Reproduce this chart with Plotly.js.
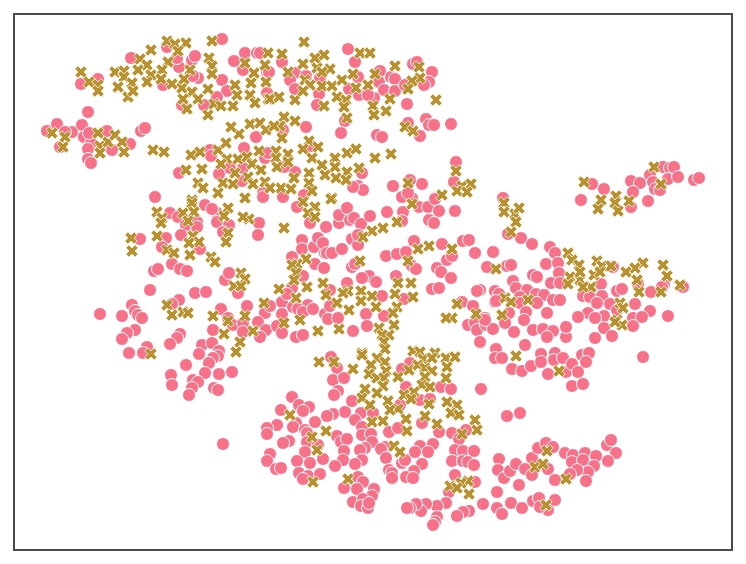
<!DOCTYPE html>
<html><head><meta charset="utf-8">
<script src="https://cdn.plot.ly/plotly-3.0.0.min.js"></script>
<style>html,body{margin:0;padding:0;background:#fff}</style></head>
<body><div id="chart" style="width:746px;height:564px"></div>
<script>
const pinkPoints = [
[47,131],[57,124],[72,132],[82,125],[88,112],[84,137],[91,143],[88,149],[88,159],[91,163],[112,150],[130,144],[141,131],[145,128],[107,131],[89,133],[65,132],[60,147],
[131,58],[222,39],[192,60],[195,56],[179,67],[167,47],[177,58],[234,61],[245,53],[257,53],[243,70],[222,80],[198,78],[193,76],[227,91],[217,97],[204,105],[163,85],[98,79],[81,84],[182,105],[267,72],[267,93],
[155,197],[179,173],[210,150],[211,156],[244,148],[256,137],[219,174],[230,168],[243,168],[242,181],[265,158],[270,153],[263,193],
[348,49],[355,62],[282,62],[269,72],[295,73],[290,80],[295,89],[306,76],[319,94],[320,78],[317,105],[349,89],[359,95],[358,77],[380,71],[379,82],[391,77],[395,79],[384,90],[395,91],[374,98],[368,95],[407,104],[413,64],[417,62],[432,72],[429,82],[424,85],[405,85],[345,121],[306,127],[341,133],[377,135],[382,137],[426,119],[429,125],[434,125],[451,124],[420,136],[408,123],[283,130],[260,53],
[456,162],[454,182],[422,184],[393,186],[410,180],[358,186],[363,190],[353,187],[362,173],[403,197],[412,198],[435,198],[295,172],[283,197],[304,195],[284,167],[268,153],[311,146],
[503,198],[592,184],[604,189],[581,200],[631,181],[640,183],[633,192],[631,207],[648,201],[650,175],[653,182],[655,189],[660,190],[663,167],[670,168],[674,167],[668,179],[678,177],[694,180],[699,178],
[508,234],[521,238],[532,244],[550,247],[555,253],[546,264],[558,263],[559,273],[551,283],[560,283],[533,275],[537,277],[494,252],[487,267],[507,266],[511,265],[513,281],[516,288],[527,290],[495,291],[495,302],[520,297],[520,303],[536,294],[544,295],[537,303],[553,300],[560,300],[547,313],[526,312],[509,313],[485,318],[480,290],[601,284],[583,296],[590,297],[602,296],[597,303],[610,304],[617,291],[622,289],[635,304],[651,292],[664,285],[662,287],[683,287],[613,267],[638,284],[650,311],[668,316],[633,318],[642,317],[604,316],[588,313],[578,317],[595,318],[617,310],
[170,213],[178,217],[186,225],[197,222],[197,227],[217,213],[217,222],[229,225],[223,232],[259,223],[258,235],[205,205],[212,209],[140,239],[166,238],[181,235],[162,247],[200,249],[154,271],[158,269],[172,264],[180,269],[187,271],[225,280],[229,273],[238,293],[150,290],[195,293],[206,292],[179,300],[172,304],[100,314],[122,316],[132,305],[135,311],[138,315],[142,318],[135,330],[127,333],[122,339],[129,353],[147,347],[143,353],[180,334],[177,338],[170,344],[202,345],[212,343],[199,354],[219,351],[218,356],[213,358],[209,363],[186,365],[232,372],[221,309],[213,330],[247,306],[265,313],[270,306],[228,318],[233,325],[243,323],[243,332],[258,322],[266,330],[260,337],[282,302],[282,314],[277,326],[282,333],[296,337],[303,335],[292,288],[287,294],[292,257],[302,240],[302,249],[314,247],[318,238],[315,264],[324,268],[325,253],[330,253],[303,276],[308,305],[293,307],[298,309],[303,312],[313,309],[325,314],[297,207],[310,223],[263,197],
[205,373],[219,374],[171,375],[172,385],[193,380],[198,382],[192,388],[189,395],[214,388],[218,390],
[323,243],[327,253],[332,253],[342,249],[326,227],[339,223],[339,215],[347,208],[350,220],[354,218],[361,224],[370,216],[387,212],[403,212],[402,197],[408,193],[419,207],[428,207],[435,199],[439,211],[455,211],[429,220],[434,223],[402,221],[352,239],[358,245],[358,235],[414,241],[442,244],[463,241],[469,240],[475,253],[493,252],[386,256],[397,254],[406,252],[412,266],[416,269],[352,267],[355,264],[369,276],[376,282],[362,278],[396,276],[347,283],[330,290],[437,268],[441,272],[451,278],[447,260],[452,256],[477,291],[499,294],[432,289],[439,288],[382,296],[404,299],[328,319],[338,318],[330,306],[366,314],[384,316],[367,326],[353,331],[468,325],[475,323],[462,302],[473,306],[496,301],
[331,357],[337,368],[333,380],[344,378],[338,391],[334,395],[292,397],[299,405],[309,407],[303,411],[281,410],[296,423],[293,427],[277,425],[267,428],[267,434],[289,441],[283,443],[315,422],[305,430],[307,433],[307,442],[318,445],[305,452],[323,459],[297,461],[310,463],[270,454],[267,461],[276,469],[281,468],[299,473],[308,476],[320,474],[303,479],[345,412],[333,414],[327,416],[352,401],[361,413],[355,420],[373,413],[362,427],[362,435],[371,434],[337,436],[341,442],[347,439],[372,442],[344,451],[365,448],[360,450],[343,460],[335,466],[362,460],[355,464],[358,477],[363,482],[357,489],[344,488],[374,489],[372,496],[353,502],[363,499],[361,506],[368,508],[369,503],
[389,432],[398,428],[422,423],[439,432],[452,433],[459,439],[466,430],[433,444],[420,446],[428,452],[415,452],[385,447],[381,449],[386,458],[402,463],[405,460],[422,464],[414,471],[406,477],[413,478],[389,470],[392,473],[392,478],
[455,450],[452,461],[463,451],[474,451],[463,461],[468,462],[474,465],[455,475],[449,492],[475,482],[483,504],[469,511],[463,512],[457,516],[446,503],[437,506],[426,504],[421,511],[416,504],[410,508],[407,508],[437,517],[435,522],[433,525],
[410,363],[402,369],[406,387],[400,405],[420,400],[430,399],[441,387],[451,389],[481,389],[507,416],[520,413],
[499,459],[498,470],[504,478],[510,471],[516,464],[519,485],[525,469],[532,458],[538,448],[546,443],[553,447],[532,475],[548,469],[565,453],[573,455],[572,462],[585,453],[583,460],[596,456],[594,466],[588,472],[577,470],[570,474],[586,481],[555,480],[607,445],[611,440],[616,453],[608,461],
[497,492],[497,508],[502,514],[511,503],[522,508],[533,501],[539,498],[548,510],[555,500],[540,507],
[477,330],[486,325],[493,329],[485,320],[480,342],[496,349],[495,358],[502,358],[512,369],[522,371],[531,366],[525,345],[541,354],[541,362],[548,374],[555,353],[554,360],[563,358],[566,372],[572,364],[578,372],[582,355],[589,353],[586,362],[572,386],[583,384],[643,357],
[514,332],[524,320],[505,323],[533,330],[543,329],[553,331],[547,337],[566,337],[566,327],[595,338],[604,328],[612,336],[633,326],[223,444]
];
const goldPoints = [
[81,72],[89,82],[98,85],[98,91],[115,72],[124,71],[124,77],[132,83],[118,87],[128,97],[133,91],[140,59],[151,50],[167,41],[175,44],[186,43],[178,51],[212,41],[168,62],[147,65],[138,70],[151,75],[162,70],[147,82],[161,79],[172,84],[182,88],[190,70],[209,58],[212,66],[212,74],[184,79],[192,92],[183,99],[198,99],[208,89],[187,109],[208,115],[214,104],[221,106],[233,106],[237,95],[235,85],[250,95],[255,103],[251,83],[254,73],[245,63],[265,65],[268,53],[266,82],[268,99],
[52,133],[65,137],[63,147],[98,133],[100,146],[100,153],[108,142],[115,135],[122,142],[124,152],[153,150],[164,152],[191,155],[200,152],[218,150],[226,143],[239,134],[231,127],[250,124],[260,123],[266,130],[227,159],[238,159],[247,157],[259,151],[221,164],[252,164],[261,170],[186,170],[202,169],[235,173],[248,177],[253,184],[265,182],[198,183],[203,188],[223,183],[233,184],[218,193],[245,198],[192,200],
[304,42],[282,54],[270,99],[279,97],[295,100],[303,64],[315,58],[324,55],[288,72],[317,68],[330,69],[322,72],[305,80],[310,85],[303,91],[322,86],[332,86],[342,80],[353,74],[356,88],[337,97],[346,100],[324,106],[344,107],[347,118],[360,53],[370,53],[375,74],[368,85],[395,66],[419,67],[420,78],[412,81],[408,89],[390,99],[373,106],[386,111],[374,115],[436,100],[405,127],[413,131],
[284,117],[295,121],[280,126],[274,126],[282,138],[309,141],[318,147],[303,149],[276,151],[288,154],[312,158],[288,162],[276,158],[277,167],[322,165],[335,158],[335,167],[347,153],[356,149],[375,158],[391,154],[359,168],[347,172],[325,175],[309,173],[294,178],[336,178],[346,180],[309,183],[281,188],[291,189],[312,191],[332,198],[270,188],[408,183],[456,171],[462,186],[471,184],[457,191],[467,192],[442,195],
[654,167],[661,184],[584,182],[601,200],[598,209],[616,196],[615,203],[618,211],[629,201],[504,203],[504,212],[515,214],[519,208],[516,222],[511,232],
[568,253],[572,260],[579,265],[597,261],[602,266],[611,266],[643,263],[635,268],[626,272],[637,280],[639,292],[663,265],[667,276],[661,292],[680,285],[496,269],[570,277],[580,280],[568,284],[580,272],[594,275],[600,272],[591,287],[583,287],[505,298],[511,302],[528,300],[620,303],[623,308],[502,315],[617,320],[622,325],[615,322],
[157,212],[162,218],[161,223],[183,213],[192,203],[194,212],[188,221],[228,208],[224,216],[249,219],[243,217],[284,228],[303,202],[315,207],[308,213],[315,217],[157,236],[131,238],[132,251],[167,250],[174,253],[190,255],[193,236],[199,242],[189,243],[228,233],[226,242],[211,257],[215,262],[306,259],[297,264],[292,265],[296,273],[294,280],[307,287],[279,289],[296,298],[241,273],[245,279],[234,286],[241,286],[167,305],[172,315],[183,312],[188,313],[213,316],[228,321],[245,316],[264,303],[253,331],[224,334],[240,342],[236,352],[284,323],[300,320],[318,331],[323,283],[326,295],[151,354],[319,362],
[331,199],[397,222],[383,228],[372,231],[363,237],[412,204],[429,246],[418,249],[452,249],[408,261],[360,261],[348,291],[343,293],[337,303],[361,291],[361,301],[372,296],[398,283],[411,283],[395,294],[413,297],[397,307],[376,307],[393,313],[394,325],[349,310],[339,329],[379,328],[389,335],[382,335],[384,342],[385,349],[457,304],[452,318],[446,318],[476,314],[362,353],
[334,362],[353,369],[362,355],[377,358],[371,365],[385,362],[386,371],[369,374],[377,378],[384,378],[383,386],[398,377],[409,370],[413,351],[420,352],[435,353],[423,359],[432,358],[446,358],[455,357],[447,367],[418,365],[425,368],[432,371],[425,377],[446,378],[422,385],[430,387],[365,389],[362,398],[377,393],[404,395],[414,392],[411,399],[388,401],[370,405],[398,409],[390,410],[429,404],[425,416],[447,402],[457,405],[451,413],[459,415],[406,419],[372,422],[383,421],[407,431],[437,424],[475,420],[477,430],[462,434],[290,415],[326,431],[312,437],[317,450],[394,446],[400,452],[348,479],[313,482],[450,486],[468,481],[461,483],[469,494],[457,488],
[516,356],[559,371],[547,451],[535,467],[543,464],[566,479],[546,505]
];
const pinkX = pinkPoints.map(p => p[0]), pinkY = pinkPoints.map(p => p[1]);
const goldX = goldPoints.map(p => p[0]), goldY = goldPoints.map(p => p[1]);
Plotly.newPlot('chart', [
 {type:'scatter', mode:'markers', x:pinkX, y:pinkY, marker:{symbol:'circle', size:13, color:'#f77189', line:{color:'#ffffff', width:1}}},
 {type:'scatter', mode:'markers', x:goldX, y:goldY, marker:{symbol:'x', size:11, color:'#b8922e', line:{color:'#ffffff', width:0.8}}}
], {
 width:746, height:564, showlegend:false, paper_bgcolor:'#fff', plot_bgcolor:'#fff',
 margin:{l:15, r:15, t:15, b:15, pad:0},
 xaxis:{range:[15,731], showgrid:false, zeroline:false, showticklabels:false, ticks:'', showline:true, mirror:true, linecolor:'#4a4a4a', linewidth:2},
 yaxis:{range:[549,15], showgrid:false, zeroline:false, showticklabels:false, ticks:'', showline:true, mirror:true, linecolor:'#4a4a4a', linewidth:2}
}, {displayModeBar:false, staticPlot:true});
</script></body></html>
